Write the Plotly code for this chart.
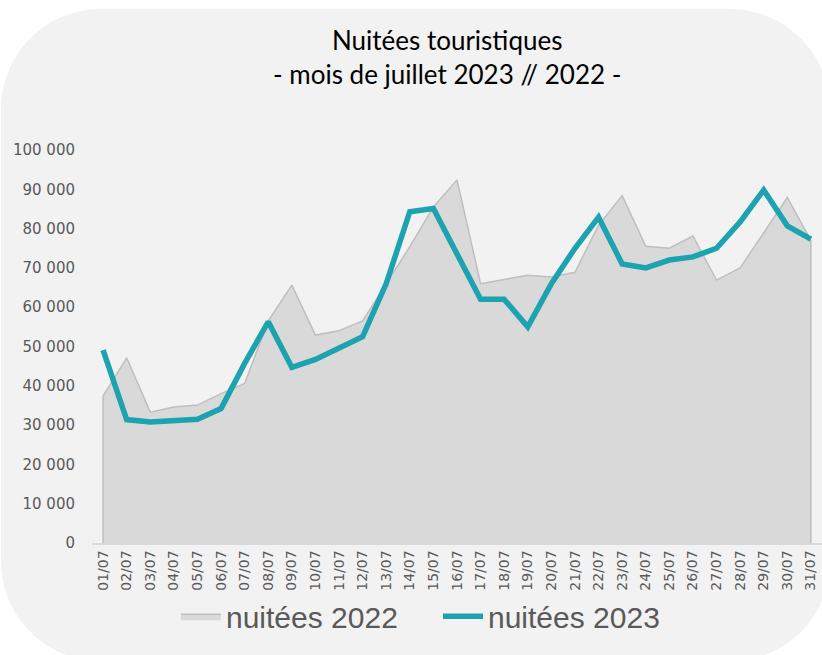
import plotly.graph_objects as go

days = ["%02d/07" % d for d in range(1, 32)]
nuitees_2022 = [37400, 47100, 33300, 34600, 35100, 38000, 40600, 56500, 65600, 52900,
                54000, 56500, 66000, 75400, 85500, 92400, 66000, 67100, 68100, 67700,
                68900, 80900, 88400, 75500, 75000, 78100, 66900, 70000, 78800, 87900, 77000]
nuitees_2023 = [49100, 31400, 30800, 31200, 31500, 34200, 45700, 56300, 44700, 46700,
                49500, 52500, 66000, 84300, 85100, 73700, 62000, 62000, 55000, 66000,
                75000, 82900, 71000, 70000, 72000, 72800, 75000, 81700, 89800, 80700, 77300]
y_tick_vals = [0, 10000, 20000, 30000, 40000, 50000, 60000, 70000, 80000, 90000, 100000]
y_tick_text = ["0", "10 000", "20 000", "30 000", "40 000", "50 000", "60 000",
               "70 000", "80 000", "90 000", "100 000"]

W, H = 822, 655
L, T = 92, 150
PW, PH = 730, 392.7
B = H - T - PH


def xp(px):
    return (px - L) / PW


def yp(py):
    return (T + PH - py) / PH


def rounded_path(x0, y0, x1, y1, r):
    k = 0.5523 * r
    pts = [
        ("M", [(x0 + r, y0)]),
        ("L", [(x1 - r, y0)]),
        ("C", [(x1 - r + k, y0), (x1, y0 + r - k), (x1, y0 + r)]),
        ("L", [(x1, y1 - r)]),
        ("C", [(x1, y1 - r + k), (x1 - r + k, y1), (x1 - r, y1)]),
        ("L", [(x0 + r, y1)]),
        ("C", [(x0 + r - k, y1), (x0, y1 - r + k), (x0, y1 - r)]),
        ("L", [(x0, y0 + r)]),
        ("C", [(x0, y0 + r - k), (x0 + r - k, y0), (x0 + r, y0)]),
    ]
    s = ""
    for cmd, ps in pts:
        s += cmd + " " + " ".join("%.5f,%.5f" % (xp(a), yp(b)) for a, b in ps) + " "
    return s + "Z"


# area 2022 closed down to zero at both ends
area_x = [days[0]] + days + [days[-1]]
area_y = [0] + nuitees_2022 + [0]

fig = go.Figure()
fig.add_trace(go.Scatter(
    x=area_x, y=area_y, name="nuitées 2022", mode="lines",
    fill="toself", fillcolor="#d9d9d9",
    line=dict(color="#bfbfbf", width=1.5),
))
fig.add_trace(go.Scatter(
    x=days, y=nuitees_2023, name="nuitées 2023", mode="lines",
    line=dict(color="#1ca3af", width=5.5),
))

fig.update_layout(
    width=W, height=H,
    margin=dict(l=L, r=0, t=T, b=B, pad=0),
    paper_bgcolor="white",
    plot_bgcolor="rgba(0,0,0,0)",
    showlegend=True,
    legend=dict(
        orientation="h", x=xp(176), xanchor="left", y=yp(616), yanchor="middle",
        font=dict(family="Liberation Sans", size=30, color="#595959"),
        bgcolor="rgba(0,0,0,0)", itemwidth=40, traceorder="normal",
        entrywidth=207, entrywidthmode="pixels",
    ),
    shapes=[dict(
        type="path", xref="paper", yref="paper", layer="below",
        path=rounded_path(1, 9, 830, 661, 100),
        fillcolor="#f2f2f2", line=dict(width=0),
    )],
    annotations=[dict(
        xref="paper", yref="paper", x=xp(447), y=yp(57), xanchor="center", yanchor="middle",
        text="Nuitées touristiques<br>- mois de juillet 2023 // 2022 -",
        showarrow=False, align="center",
        font=dict(family="Lato", size=26, color="#000000"),
    )],
)
fig.update_xaxes(
    type="category", range=[-0.47, 30.47], showgrid=False,
    showline=True, linecolor="#d9d9d9", linewidth=1.5,
    ticks="", tickangle=-90,
    tickfont=dict(family="DejaVu Sans", size=14, color="#595959"),
    fixedrange=True,
)
fig.update_yaxes(
    range=[0, 100000], showgrid=False, zeroline=False, showline=False,
    tickvals=y_tick_vals, ticktext=y_tick_text, ticks="",
    ticklabelstandoff=16,
    tickfont=dict(family="DejaVu Sans", size=15, color="#595959"),
    fixedrange=True,
)

fig.write_html(
    "out.html",
    config={"displayModeBar": False},
    post_script="document.body.style.margin='0';document.body.style.overflow='hidden';",
)
